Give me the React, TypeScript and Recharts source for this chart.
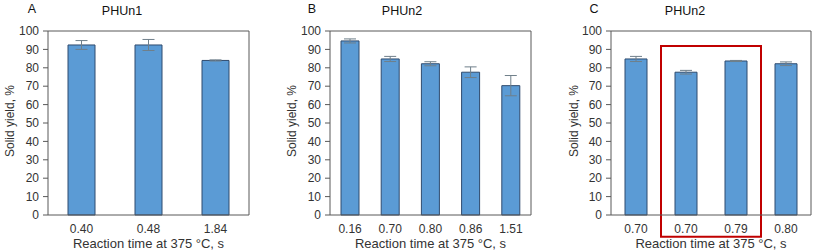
import React from "react";
import {
  Bar,
  BarChart,
  ErrorBar,
  Label,
  ReferenceArea,
  XAxis,
  YAxis,
} from "recharts";

const catsA = ["0.40", "0.48", "1.84"];
const yieldA = [92.4, 92.4, 84.0];
const errA = [2.4, 3.0, 0.3];

const catsB = ["0.16", "0.70", "0.80", "0.86", "1.51"];
const yieldB = [94.6, 84.8, 82.2, 77.6, 70.3];
const errB = [1.1, 1.4, 1.1, 2.9, 5.5];

const catsC = ["0.70", "0.70", "0.79", "0.80"];
const yieldC = [84.8, 77.6, 83.7, 82.2];
const errC = [1.4, 1.0, 0.3, 1.0];

const yTicks = [0, 10, 20, 30, 40, 50, 60, 70, 80, 90, 100];

const FONT = '"Liberation Sans", Arial, sans-serif';
const TEXT = "#333333";
const FRAME = "#595959";

type Point = { idx: number; label: string; value: number; err: number };

const toPoints = (cats: string[], vals: number[], errs: number[]): Point[] =>
  cats.map((label, idx) => ({ idx, label, value: vals[idx], err: errs[idx] }));

function Panel({
  letter,
  title,
  data,
  width,
  axisW,
  right,
  barSize,
  letterX,
  titleX,
  yLabelX,
  box,
}: {
  letter: string;
  title: string;
  data: Point[];
  width: number;
  axisW: number;
  right: number;
  barSize: number;
  letterX: number;
  titleX: number;
  yLabelX: number;
  /** categories (by index) to frame in red */
  box?: [number, number];
}) {
  return (
    <div style={{ position: "relative", width, height: 252 }}>
      <div
        style={{
          position: "absolute",
          left: letterX,
          top: 2,
          fontFamily: FONT,
          fontSize: 12.5,
          color: "#111",
          transform: "translateX(-50%)",
        }}
      >
        {letter}
      </div>
      <div
        style={{
          position: "absolute",
          left: titleX,
          top: 4,
          fontFamily: FONT,
          fontSize: 12.5,
          color: "#111",
          transform: "translateX(-50%)",
        }}
      >
        {title}
      </div>
      <BarChart
        width={width}
        height={252}
        data={data}
        margin={{ top: 30, right: right - 1, left: 0, bottom: 0 }}
        style={{ fontFamily: FONT }}
      >
        <XAxis
          dataKey="idx"
          type="category"
          tickFormatter={(_v: unknown, i: number) => data[i]?.label ?? ""}
          tickLine={false}
          tickSize={0}
          tickMargin={9}
          axisLine={{ stroke: FRAME }}
          tick={{ fill: TEXT, fontSize: 12 }}
          height={37}
        >
          <Label
            content={() => (
              <text
                x={axisW + (width - axisW - right) / 2}
                y={248}
                textAnchor="middle"
                fill={TEXT}
                fontSize={13}
                fontFamily={FONT}
              >
                Reaction time at 375 °C, s
              </text>
            )}
          />
        </XAxis>
        <XAxis
          xAxisId="top"
          dataKey="idx"
          orientation="top"
          tick={false}
          tickLine={false}
          axisLine={{ stroke: FRAME }}
          height={1}
        />
        <YAxis
          domain={[0, 100]}
          ticks={yTicks}
          interval={0}
          width={axisW}
          tickSize={5}
          tickMargin={4}
          tickLine={{ stroke: FRAME }}
          axisLine={{ stroke: FRAME }}
          tick={{ fill: TEXT, fontSize: 12 }}
        >
          <Label
            content={() => (
              <text
                x={yLabelX}
                y={121}
                transform={`rotate(-90 ${yLabelX} 121)`}
                textAnchor="middle"
                dominantBaseline="central"
                fill={TEXT}
                fontSize={12}
                fontFamily={FONT}
              >
                Solid yield, %
              </text>
            )}
          />
        </YAxis>
        <YAxis
          yAxisId="right"
          orientation="right"
          domain={[0, 100]}
          tick={false}
          tickLine={false}
          axisLine={{ stroke: FRAME }}
          width={1}
        />
        <Bar
          dataKey="value"
          fill="#5B9BD5"
          stroke="#2F4B6E"
          strokeWidth={1}
          barSize={barSize}
          isAnimationActive={false}
        >
          <ErrorBar dataKey="err" width={6} stroke="#6F7F8A" strokeWidth={1} />
        </Bar>
        {box && (
          <ReferenceArea
            x1={box[0]}
            x2={box[1]}
            y1={91.9}
            y2={-11.8}
            ifOverflow="visible"
            fill="none"
            stroke="#C00000"
            strokeWidth={2}
            fillOpacity={0}
          />
        )}
      </BarChart>
    </div>
  );
}

export default function App() {
  return (
    <div
      style={{
        position: "absolute",
        left: 0,
        top: 0,
        width: 817,
        height: 252,
        background: "#fff",
        display: "flex",
      }}
    >
      <Panel
        letter="A"
        title="PHUn1"
        data={toPoints(catsA, yieldA, errA)}
        width={272}
        axisW={48}
        right={23}
        barSize={27}
        letterX={32}
        titleX={122}
        yLabelX={10}
      />
      <Panel
        letter="B"
        title="PHUn2"
        data={toPoints(catsB, yieldB, errB)}
        width={272}
        axisW={58}
        right={13}
        barSize={18}
        letterX={40}
        titleX={130}
        yLabelX={20}
      />
      <Panel
        letter="C"
        title="PHUn2"
        data={toPoints(catsC, yieldC, errC)}
        width={273}
        axisW={67}
        right={6}
        barSize={22}
        letterX={50}
        titleX={141}
        yLabelX={30}
        box={[1, 2]}
      />
    </div>
  );
}
